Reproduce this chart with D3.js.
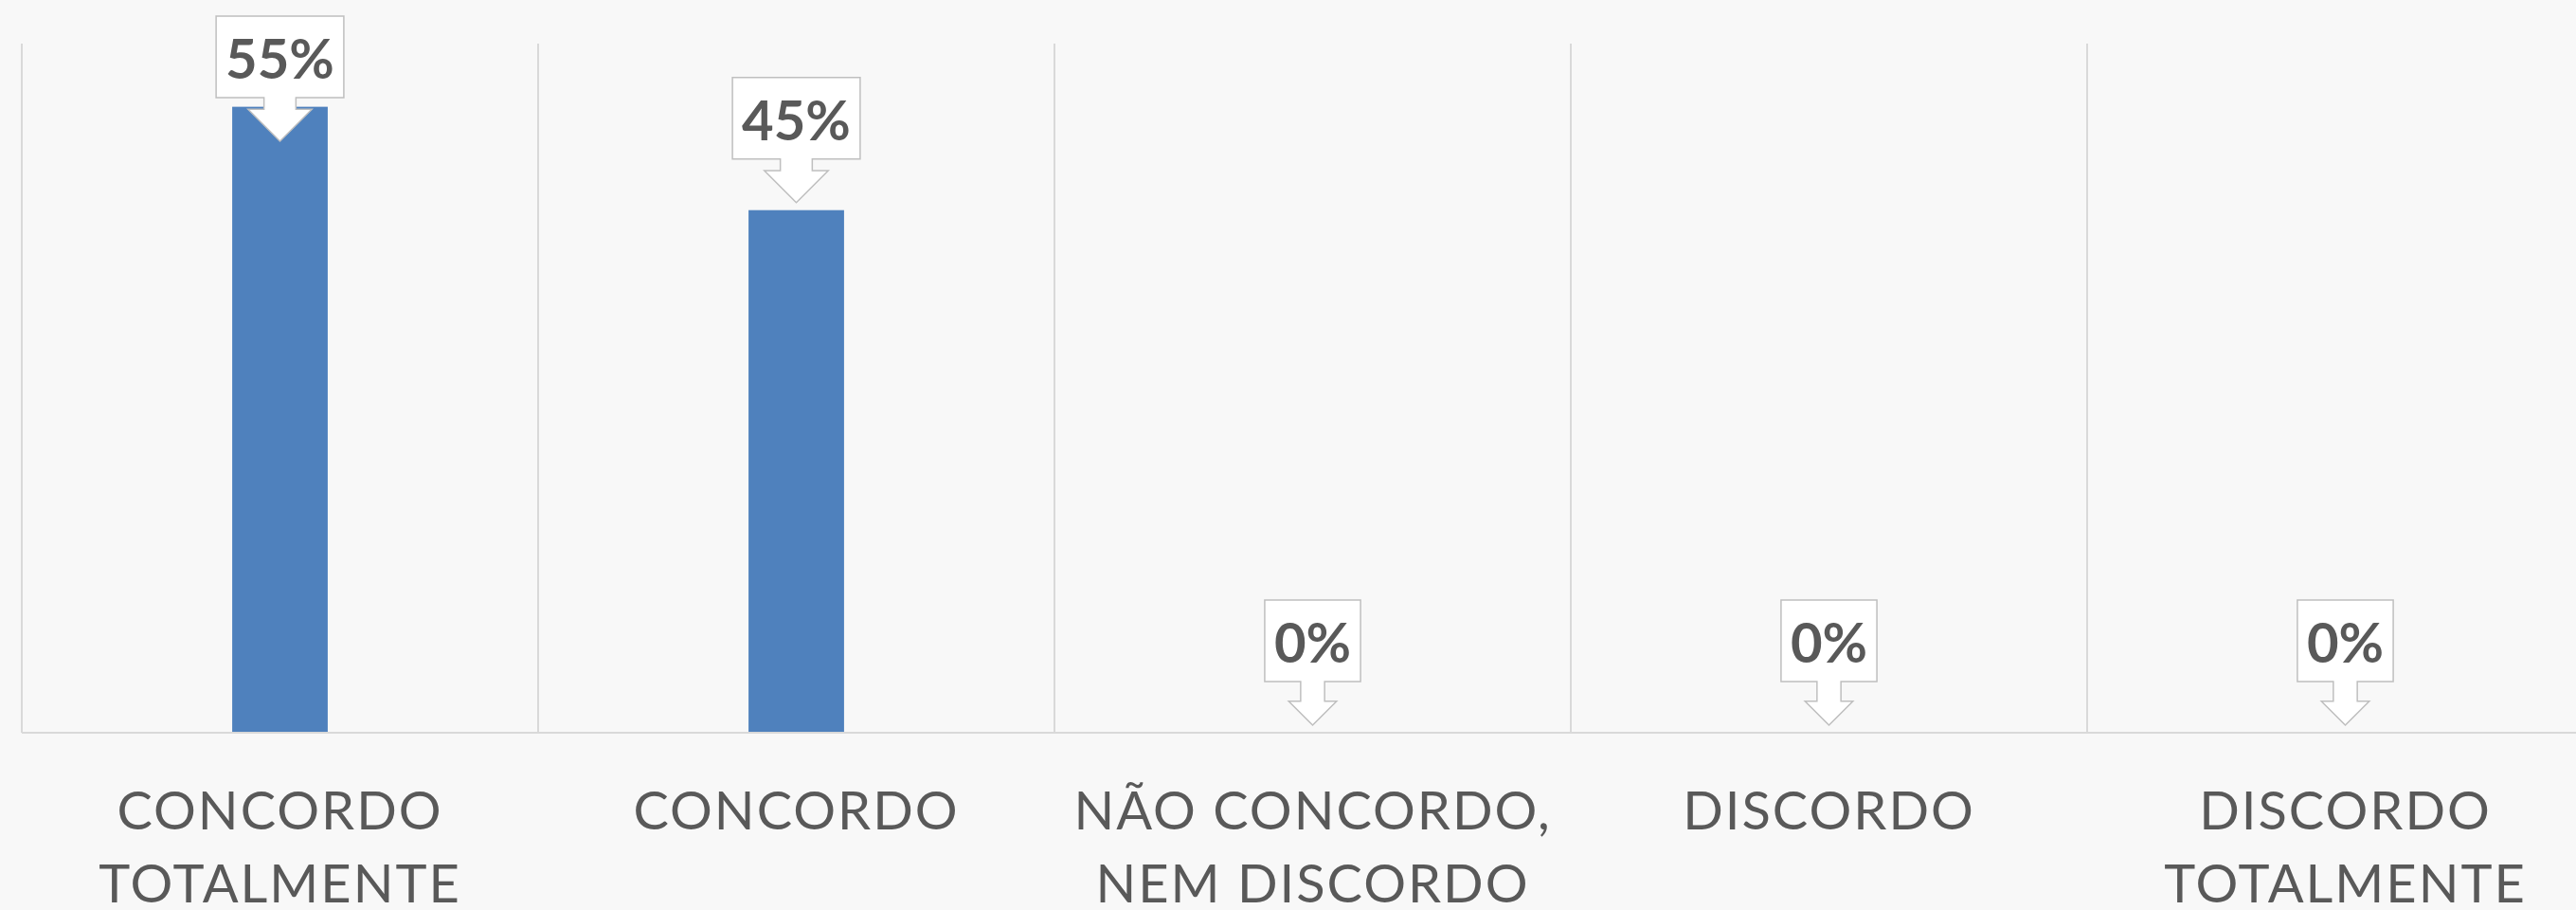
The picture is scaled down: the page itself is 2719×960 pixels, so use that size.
<!DOCTYPE html>
<html>
<head>
<meta charset="utf-8">
<script src="https://cdn.jsdelivr.net/npm/d3@7"></script>
<style>
  html, body { margin: 0; padding: 0; background: #f8f8f8; }
  svg { display: block; }
</style>
</head>
<body>
<svg id="chart" width="2719" height="960"></svg>
<script>
const categories = [
  ["CONCORDO", "TOTALMENTE"],
  ["CONCORDO"],
  ["NÃO CONCORDO,", "NEM DISCORDO"],
  ["DISCORDO"],
  ["DISCORDO", "TOTALMENTE"]
];
const categoryKeys = ["CT", "C", "N", "D", "DT"];
const values = [0.545, 0.455, 0, 0, 0];
const valueLabels = ["55%", "45%", "0%", "0%", "0%"];

const W = 2719, H = 960;
const svg = d3.select("#chart");
svg.append("rect").attr("width", W).attr("height", H).attr("fill", "#f8f8f8");

const plotLeft = 23, plotTop = 46, plotBottom = 773, step = 545;
const x = d3.scaleBand().domain(categoryKeys).range([plotLeft, plotLeft + step * categoryKeys.length]).padding(0);
const y = d3.scaleLinear().domain([0, 0.6]).range([plotBottom, plotTop]);
const barW = x.bandwidth() * 0.185;

// vertical gridlines (category separators)
svg.append("g").selectAll("line").data(categoryKeys).join("line")
  .attr("x1", d => x(d)).attr("x2", d => x(d))
  .attr("y1", plotTop).attr("y2", plotBottom)
  .attr("stroke", "#d9d9d9").attr("stroke-width", 2);

// bars
svg.append("g").selectAll("rect").data(values).join("rect")
  .attr("x", (d, i) => x(categoryKeys[i]) + x.bandwidth() / 2 - barW / 2)
  .attr("width", barW)
  .attr("y", d => y(d))
  .attr("height", d => plotBottom - y(d))
  .attr("fill", "#4f81bd");

// baseline
svg.append("line").attr("x1", plotLeft).attr("x2", W).attr("y1", plotBottom).attr("y2", plotBottom)
  .attr("stroke", "#d9d9d9").attr("stroke-width", 2);

// category labels
const lab = svg.append("g").selectAll("text").data(categories).join("text")
  .attr("text-anchor", "middle")
  .attr("font-family", "Lato, 'Open Sans', sans-serif")
  .attr("font-size", 56)
  .attr("letter-spacing", 2)
  .attr("fill", "#595959")
  .attr("transform", (d, i) => `translate(${x(categoryKeys[i]) + x.bandwidth() / 2},0)`);
lab.selectAll("tspan").data(d => d).join("tspan")
  .attr("x", 0).attr("y", (d, j) => 875 + j * 77)
  .text(d => d);

// callouts
const callH = 132, boxH = 86, gap = 8, minTop = 17;
const cg = svg.append("g").selectAll("g").data(values).join("g");
cg.each(function(v, i) {
  const g = d3.select(this);
  const cx = x(categoryKeys[i]) + x.bandwidth() / 2;
  const txt = g.append("text")
    .attr("text-anchor", "middle")
    .attr("font-family", "Lato, 'Open Sans', sans-serif")
    .attr("font-weight", 700)
    .attr("font-size", 58)
    .attr("fill", "#595959")
    .text(valueLabels[i]);
  const tw = txt.node().getComputedTextLength();
  const w = tw + 20;
  const tip = y(v) - gap;
  const T = Math.max(minTop, tip - callH);
  const headH = 0.25 * w, sw = 0.25 * w, hw = 0.5 * w;
  const headTop = T + callH - headH;
  const p = d3.path();
  p.moveTo(cx - w / 2, T);
  p.lineTo(cx + w / 2, T);
  p.lineTo(cx + w / 2, T + boxH);
  p.lineTo(cx + sw / 2, T + boxH);
  p.lineTo(cx + sw / 2, headTop);
  p.lineTo(cx + hw / 2, headTop);
  p.lineTo(cx, T + callH);
  p.lineTo(cx - hw / 2, headTop);
  p.lineTo(cx - sw / 2, headTop);
  p.lineTo(cx - sw / 2, T + boxH);
  p.lineTo(cx - w / 2, T + boxH);
  p.closePath();
  g.insert("path", "text").attr("d", p.toString())
    .attr("fill", "#ffffff").attr("stroke", "#bfbfbf").attr("stroke-width", 1.5);
  txt.attr("x", cx).attr("y", T + 66);
});
</script>
</body>
</html>
